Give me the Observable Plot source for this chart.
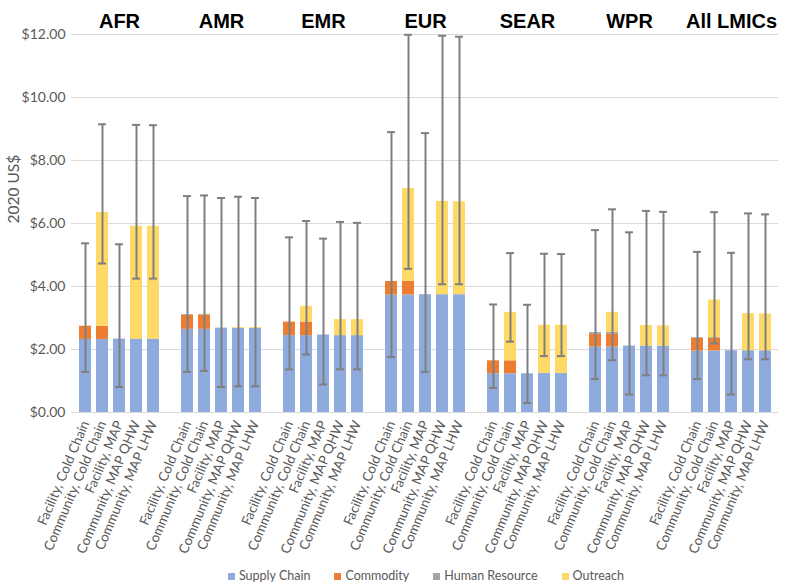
<!DOCTYPE html>
<html>
<head>
<meta charset="utf-8">
<script src="https://cdn.jsdelivr.net/npm/d3@7"></script>
<script src="https://cdn.jsdelivr.net/npm/@observablehq/plot@0.6"></script>
<style>
  html, body { margin: 0; padding: 0; background: #fff; }
  #chart svg { display: block; }
  .legend { display: flex; justify-content: center; align-items: center; padding-left: 52px; gap: 24px;
            font: 12.5px Lato, sans-serif; color: #595959; height: 26px; margin-top: 2px; }
  .legend span.sw { display: inline-block; width: 7px; height: 7px; margin-right: 4px; }
</style>
</head>
<body>
<div id="chart"></div>
<script>
const regions = ["AFR", "AMR", "EMR", "EUR", "SEAR", "WPR", "All LMICs"];
const scenarios = ["Facility, Cold Chain", "Community, Cold Chain", "Facility, MAP", "Community, MAP QHW", "Community, MAP LHW"];
const components = ["Supply Chain", "Commodity", "Human Resource", "Outreach"];
const componentColors = ["#8FAADC", "#ED7D31", "#A5A5A5", "#FFD966"];
const yTicks = [0, 2, 4, 6, 8, 10, 12];

// values per region, 5 scenarios each (in the order of `scenarios`)
const supplyChain = [
  2.32, 2.32, 2.33, 2.33, 2.33,
  2.64, 2.64, 2.68, 2.67, 2.67,
  2.44, 2.44, 2.46, 2.44, 2.44,
  3.73, 3.73, 3.74, 3.74, 3.74,
  1.23, 1.23, 1.23, 1.24, 1.24,
  2.08, 2.08, 2.11, 2.11, 2.11,
  1.95, 1.95, 1.96, 1.96, 1.96
];
const commodity = [
  0.42, 0.42, 0, 0, 0,
  0.45, 0.45, 0, 0, 0,
  0.43, 0.43, 0, 0, 0,
  0.43, 0.43, 0, 0, 0,
  0.41, 0.41, 0, 0, 0,
  0.40, 0.40, 0, 0, 0,
  0.41, 0.41, 0, 0, 0
];
const humanResource = [
  0, 0, 0, 0, 0,
  0.02, 0.02, 0, 0, 0,
  0, 0, 0, 0, 0,
  0, 0, 0, 0, 0,
  0, 0, 0, 0, 0,
  0.06, 0.06, 0, 0, 0,
  0.02, 0.02, 0, 0, 0
];
const outreach = [
  0, 3.61, 0, 3.58, 3.58,
  0, 0.01, 0, 0.03, 0.03,
  0, 0.50, 0, 0.51, 0.51,
  0, 2.95, 0, 2.96, 2.95,
  0, 1.54, 0, 1.53, 1.53,
  0, 0.64, 0, 0.65, 0.64,
  0, 1.19, 0, 1.18, 1.17
];
const errorLow = [
  1.29, 4.73, 0.81, 4.25, 4.25,
  1.29, 1.32, 0.81, 0.83, 0.83,
  1.37, 1.84, 0.89, 1.37, 1.37,
  1.76, 4.56, 1.29, 4.07, 4.07,
  0.78, 2.25, 0.30, 1.79, 1.79,
  1.06, 1.66, 0.57, 1.18, 1.18,
  1.06, 2.19, 0.57, 1.69, 1.69
];
const errorHigh = [
  5.37, 9.15, 5.34, 9.13, 9.12,
  6.87, 6.89, 6.81, 6.85, 6.81,
  5.56, 6.08, 5.52, 6.05, 6.02,
  8.90, 11.99, 8.87, 11.96, 11.93,
  3.43, 5.06, 3.42, 5.04, 5.03,
  5.79, 6.45, 5.72, 6.40, 6.37,
  5.10, 6.36, 5.07, 6.32, 6.29
];

// build x domain with blank spacer slots between region groups
const keyOf = (r, s) => r + "|" + s;
const xDomain = [];
const xLabel = new Map();
regions.forEach((r, i) => {
  if (i > 0) { const g = "gap" + i; xDomain.push(g); xLabel.set(g, ""); }
  scenarios.forEach(s => { const k = keyOf(r, s); xDomain.push(k); xLabel.set(k, s); });
});

const series = [supplyChain, commodity, humanResource, outreach];
const barRows = [];
const errRows = [];
regions.forEach((r, i) => {
  scenarios.forEach((s, j) => {
    const idx = i * scenarios.length + j;
    components.forEach((c, k) => {
      barRows.push({key: keyOf(r, s), component: c, value: series[k][idx]});
    });
    errRows.push({key: keyOf(r, s), lo: errorLow[idx], hi: errorHigh[idx]});
  });
});

const axisColor = "#595959";
const chart = Plot.plot({
  width: 800,
  height: 560,
  marginLeft: 71,
  marginRight: 22,
  marginTop: 34,
  marginBottom: 148,
  style: {fontFamily: "Lato, sans-serif", background: "#fff"},
  x: {domain: xDomain, paddingInner: 0.3, paddingOuter: 0.15, label: null},
  y: {domain: [0, 12], label: null},
  color: {domain: components, range: componentColors},
  marks: [
    Plot.ruleY(yTicks, {stroke: "#D9D9D9", strokeWidth: 1}),
    Plot.barY(barRows, {x: "key", y: "value", fill: "component", order: components}),
    Plot.ruleX(errRows, {x: "key", y1: "lo", y2: "hi", stroke: "#7F7F7F", strokeWidth: 2}),
    Plot.tickY(errRows, {x: "key", y: "lo", stroke: "#7F7F7F", strokeWidth: 2, inset: 2}),
    Plot.tickY(errRows, {x: "key", y: "hi", stroke: "#7F7F7F", strokeWidth: 2, inset: 2}),
    Plot.axisY(yTicks, {tickSize: 0, tickPadding: 6, fontSize: 14, fill: axisColor,
      tickFormat: d => "$" + d.toFixed(2), label: null}),
    Plot.axisX({tickSize: 0, tickPadding: 9, tickRotate: -67, fontSize: 13.5, fill: axisColor,
      tickFormat: k => xLabel.get(k), label: null}),
    Plot.text(regions, {x: r => keyOf(r, scenarios[2]), text: d => d, frameAnchor: "top",
      lineAnchor: "bottom", dy: -7, fontSize: 20, fontWeight: "bold", fill: "#000",
      fontFamily: "Liberation Sans, Arial, sans-serif"}),
    Plot.text(["2020 US$"], {frameAnchor: "left", rotate: -90, dx: -57, fontSize: 15.5, fill: axisColor})
  ]
});
document.getElementById("chart").appendChild(chart);

const legend = document.createElement("div");
legend.className = "legend";
components.forEach((c, i) => {
  const item = document.createElement("div");
  const sw = document.createElement("span");
  sw.className = "sw";
  sw.style.background = componentColors[i];
  item.appendChild(sw);
  item.appendChild(document.createTextNode(c));
  legend.appendChild(item);
});
document.body.appendChild(legend);
</script>
</body>
</html>
